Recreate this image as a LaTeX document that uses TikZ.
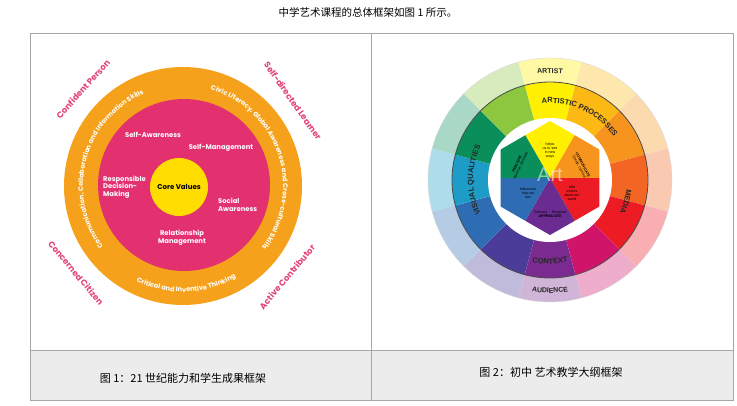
\documentclass[tikz,border=0pt]{standalone}
\usepackage{fontspec}
\setmainfont{Liberation Sans}
\newfontfamily\cjk{Noto Sans CJK SC}
\newfontfamily\geo{Poppins}
\usetikzlibrary{decorations.text,calc}

\definecolor{ring}{HTML}{F5A11C}
\definecolor{rose}{HTML}{E3306F}
\definecolor{core}{HTML}{FFDD00}
\definecolor{outcome}{HTML}{E2417A}
\definecolor{cwA}{HTML}{FFEF00}
\definecolor{cwB}{HTML}{FDB913}
\definecolor{cwC}{HTML}{F7941D}
\definecolor{cwD}{HTML}{F26522}
\definecolor{cwE}{HTML}{ED1C24}
\definecolor{cwF}{HTML}{D0146A}
\definecolor{cwG}{HTML}{7B2B8F}
\definecolor{cwH}{HTML}{4C3C99}
\definecolor{cwI}{HTML}{2E6DB4}
\definecolor{cwJ}{HTML}{1C9CC6}
\definecolor{cwK}{HTML}{0A8F5B}
\definecolor{cwL}{HTML}{8DC63F}
\definecolor{hexP}{HTML}{6A2C91}

\begin{document}
\begin{tikzpicture}[x=1pt,y=1pt,
    arctext/.style 2 args={
        decoration={text along path, text align=center,
                    text={|#1|#2}},
        decorate},
    inlabel/.style={font=\geo\bfseries\fontsize{6.8}{7.6}\selectfont, text=white, align=center, inner sep=0pt},
    outlabel/.style={font=\geo\bfseries\fontsize{8.5}{9}\selectfont, text=outcome, inner sep=0pt},
    hexlabel/.style={font=\fontsize{3.6}{4}\selectfont, align=center, inner sep=0pt},
    caption/.style={font=\cjk\fontsize{11}{12}\selectfont}
  ]
  \useasboundingbox (0,0) rectangle (737,-405);

  % title and table
  \node[caption, font=\cjk\fontsize{10.5}{12}\selectfont] (title) at (368,-12) {中学艺术课程的总体框架如图 1 所示。};
  \fill[gray!15] (30,-350) rectangle (733,-400);
  \draw[gray!70, line width=0.6pt] (30,-33) rectangle (733,-400);
  \draw[gray!70, line width=0.6pt] (30,-350) -- (733,-350);
  \draw[gray!70, line width=0.6pt] (371,-33) -- (371,-400);
  \node[caption] (capA) at (183,-378) {图 1：21 世纪能力和学生成果框架};
  \node[caption] (capB) at (551,-372) {图 2：初中 艺术教学大纲框架};

  % left framework
  \coordinate (lc) at (183,-186);
  \coordinate (pc) at (184,-185);
  \fill[ring] (lc) circle (119);
  \fill[rose] (pc) circle (86);
  \node[circle, fill=core, minimum size=58pt, inner sep=0pt] (cv) at (179,-187) {};
  \node[font=\geo\bfseries\fontsize{7}{7}\selectfont] at (cv) {Core Values};

  \node[inlabel] (sa) at (153,-135) {Self-Awareness};
  \node[inlabel] (sm) at (221,-148) {Self-Management};
  \node[inlabel, align=left, anchor=west] (rd) at (103,-187) {Responsible\\Decision-\\Making};
  \node[inlabel, align=left, anchor=west] (so) at (218,-205) {Social\\Awareness};
  \node[inlabel] (rm) at (182,-238) {Relationship\\Management};

  \path[arctext={\geo\bfseries\fontsize{6.6}{7}\selectfont\color{white}}{Communication, Collaboration and Information Skills}]
    (lc) ++(220:100) arc[start angle=220, end angle=110, radius=100];
  \path[arctext={\geo\bfseries\fontsize{6.6}{7}\selectfont\color{white}}{Civic Literacy, Global Awareness and Cross-cultural Skills}]
    (lc) ++(76:100) arc[start angle=76, end angle=-40, radius=100];
  \path[arctext={\geo\bfseries\fontsize{6.6}{7}\selectfont\color{white}}{Critical and Inventive Thinking}]
    (lc) ++(238:106) arc[start angle=238, end angle=306, radius=106];

  \node[outlabel, rotate=48] (cp) at (83,-89) {Confident Person};
  \node[outlabel, rotate=-55] (sl) at (293,-101) {Self-directed Learner};
  \node[outlabel, rotate=-50] (cc) at (76,-273) {Concerned Citizen};
  \node[outlabel, rotate=50] (ac) at (287,-277) {Active Contributor};

  % right framework
  \coordinate (rc) at (550,-180);
  \coordinate (hc) at (550,-178);
  \foreach \c [count=\i] in {cwA,cwB,cwC,cwD,cwE,cwF,cwG,cwH,cwI,cwJ,cwK,cwL}{
    \pgfmathsetmacro\a{105-30*(\i-1)}
    \pgfmathsetmacro\b{75-30*(\i-1)}
    \fill[\c!35!white] (rc) -- ++(\a:122) arc[start angle=\a, end angle=\b, radius=122] -- cycle;
    \fill[\c] (rc) -- ++(\a:98) arc[start angle=\a, end angle=\b, radius=98] -- cycle;
  }
  \draw[black!70, line width=0.8pt] (rc) circle (98);
  \draw[gray!30, line width=0.4pt] (rc) circle (122);
  \fill[white] (rc) circle (62);
  \foreach \c [count=\i] in {cwA,cwC,cwE,hexP,cwI,cwK}{
    \pgfmathsetmacro\v{90-60*(\i-1)}
    \fill[\c] (hc) -- ++(\v+30:49.4) -- ($(hc)+(\v:57)$) -- ($(hc)+(\v-30:49.4)$) -- cycle;
  }
  \node[text=white, opacity=0.55, font=\fontsize{20}{20}\selectfont] (art) at ($(hc)+(0,3)$) {Art};
  \node[hexlabel] (hy) at ($(hc)+(0,27)$) {helps\\us to see\\in new\\ways};
  \node[hexlabel, rotate=65] (hg) at ($(hc)+(-31,13)$) {\textbf{PERCEIVE}\\Observe, Describe};
  \node[hexlabel, rotate=-62] (ho) at ($(hc)+(31,12)$) {\textbf{COMMUNICATE}\\Create, connect};
  \node[hexlabel] (hr) at ($(hc)+(22,-15)$) {tells\\stories\\about our\\world};
  \node[hexlabel] (hb) at ($(hc)+(-22,-15)$) {influences\\how we\\live};
  \node[hexlabel] (hp) at ($(hc)+(0,-36)$) {Connect \quad Respond\\\textbf{APPRECIATE}};

  \path[arctext={\bfseries\fontsize{7.5}{8}\selectfont\color{black!85}}{ARTISTIC PROCESSES}]
    (rc) ++(102:77) arc[start angle=102, end angle=28, radius=77];
  \path[arctext={\bfseries\fontsize{7.5}{8}\selectfont\color{black!85}}{MEDIA}]
    (rc) ++(2:77) arc[start angle=2, end angle=-34, radius=77];
  \path[arctext={\bfseries\fontsize{7.5}{8}\selectfont\color{black!85}}{CONTEXT}]
    (rc) ++(240:84) arc[start angle=240, end angle=300, radius=84];
  \path[arctext={\bfseries\fontsize{7.5}{8}\selectfont\color{black!85}}{VISUAL QUALITIES}]
    (rc) ++(225:77) arc[start angle=225, end angle=135, radius=77];
  \path[arctext={\bfseries\fontsize{7}{8}\selectfont\color{black!85}}{ARTIST}]
    (rc) ++(110:107) arc[start angle=110, end angle=70, radius=107];
  \path[arctext={\bfseries\fontsize{7}{8}\selectfont\color{black!85}}{AUDIENCE}]
    (rc) ++(250:113) arc[start angle=250, end angle=290, radius=113];
\end{tikzpicture}
\end{document}
